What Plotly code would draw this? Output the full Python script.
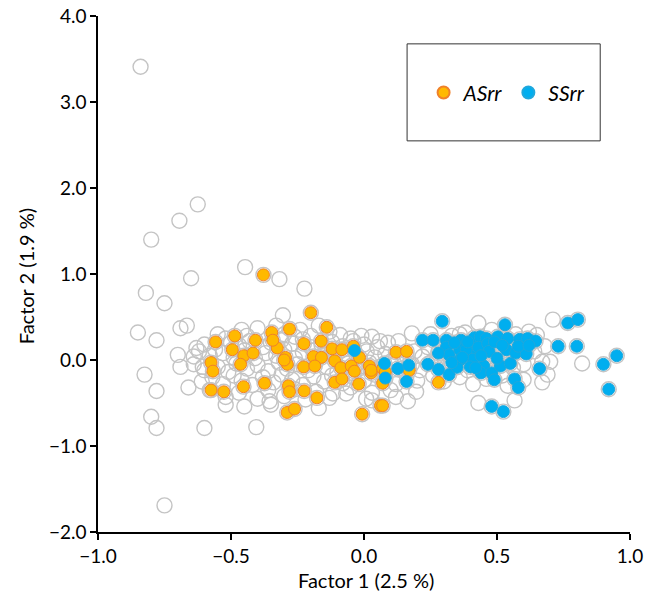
import plotly.graph_objects as go

# ---------------- data ----------------
# samples only shown as grey open circles
gray_x = [-0.84, -0.625, -0.694, -0.80, -0.65, -0.447, -0.82, -0.75, -0.318, -0.224, -0.305,
          -0.85, -0.78, -0.69, -0.666, -0.70, -0.69, -0.63, -0.64, -0.825, -0.78, -0.66,
          -0.80, -0.78, -0.60, -0.405, -0.75, -0.606,
          -0.46, -0.40, -0.33, -0.24, -0.30, -0.17, -0.09, -0.05, 0.03, -0.13, -0.20, -0.55, -0.52,
          -0.60, -0.56, -0.50, -0.47, -0.43, -0.38, -0.35, -0.31, -0.27, -0.23, -0.20, -0.16, -0.12,
          -0.08, -0.04, 0.00, 0.05, 0.09, 0.13, -0.44, -0.26,
          -0.62, -0.58, -0.53, -0.49, -0.45, -0.41, -0.37, -0.33, -0.30, -0.26, -0.23, -0.19, -0.15,
          -0.11, -0.07, -0.03, 0.01, 0.04, 0.08, 0.12, 0.16, 0.19, 0.22,
          -0.64, -0.60, -0.55, -0.51, -0.48, -0.44, -0.40, -0.36, -0.32, -0.29, -0.25, -0.21, -0.18,
          -0.14, -0.10, -0.06, -0.02, 0.02, 0.06, 0.10, 0.14, 0.18, 0.21, 0.25,
          -0.61, -0.57, -0.53, -0.49, -0.46, -0.42, -0.38, -0.34, -0.31, -0.27, -0.23, -0.19, -0.15,
          -0.12, -0.08, -0.04, 0.00, 0.04, 0.08, 0.12, 0.16, 0.20,
          -0.58, -0.52, -0.52, -0.45, -0.47, -0.40, -0.36, -0.355, -0.35, -0.30, -0.26, -0.22, -0.17,
          -0.18, -0.13, -0.117, -0.067, -0.05, 0.008, 0.03, 0.03, 0.10, 0.12, 0.165, 0.196,
          0.18, 0.25, 0.33, 0.38, 0.43, 0.48, 0.57, 0.65, 0.62,
          0.24, 0.28, 0.34, 0.38, 0.42, 0.46, 0.50, 0.55, 0.60, 0.64, 0.68,
          0.27, 0.31, 0.35, 0.39, 0.43, 0.47, 0.52, 0.56, 0.60, 0.67, 0.70,
          0.26, 0.30, 0.36, 0.41, 0.46, 0.52, 0.60, 0.69, 0.67, 0.54,
          0.43, 0.566, 0.71, 0.82, 0.36, -0.01, 0.06]
gray_y = [3.41, 1.81, 1.62, 1.40, 0.95, 1.08, 0.78, 0.66, 0.94, 0.83, 0.52,
          0.32, 0.23, 0.37, 0.40, 0.06, -0.08, 0.14, 0.04, -0.17, -0.36, -0.32,
          -0.66, -0.79, -0.79, -0.78, -1.69, -0.08,
          0.35, 0.37, 0.40, 0.35, 0.30, 0.40, 0.29, 0.25, 0.27, 0.33, 0.28, 0.30, 0.25,
          0.18, 0.12, 0.20, 0.17, 0.22, 0.15, 0.20, 0.23, 0.19, 0.24, 0.15, 0.18, 0.21,
          0.16, 0.22, 0.18, 0.15, 0.20, 0.22, 0.28, 0.27,
          0.10, 0.05, 0.08, 0.03, 0.11, 0.02, 0.08, 0.05, 0.12, 0.02, 0.09, 0.11, 0.06,
          0.09, 0.04, 0.07, 0.10, 0.03, 0.07, 0.02, 0.05, 0.10, 0.04,
          -0.05, -0.12, -0.08, -0.14, -0.04, -0.10, -0.06, -0.13, -0.03, -0.10, -0.05, -0.12, -0.02,
          -0.08, -0.14, -0.04, -0.10, -0.03, -0.08, -0.02, -0.10, -0.05, -0.12, -0.03,
          -0.25, -0.20, -0.28, -0.18, -0.24, -0.29, -0.20, -0.26, -0.17, -0.23, -0.29, -0.19, -0.25,
          -0.18, -0.27, -0.20, -0.24, -0.17, -0.22, -0.28, -0.18, -0.24,
          -0.35, -0.43, -0.52, -0.54, -0.38, -0.45, -0.35, -0.48, -0.52, -0.42, -0.34, -0.46, -0.56,
          -0.37, -0.44, -0.39, -0.39, -0.32, -0.45, -0.38, -0.47, -0.35, -0.43, -0.48, -0.37,
          0.31, 0.30, 0.28, 0.32, 0.43, 0.35, 0.30, 0.29, 0.33,
          0.15, 0.10, 0.18, 0.05, 0.20, 0.03, 0.16, 0.22, 0.14, 0.10, 0.16,
          -0.02, -0.08, 0.02, -0.12, -0.03, -0.10, -0.02, -0.09, -0.05, -0.02, -0.02,
          -0.18, -0.25, -0.20, -0.28, -0.22, -0.18, -0.23, -0.17, -0.26, -0.30,
          -0.50, -0.47, 0.47, -0.04, 0.30, 0.28, 0.22]

# ASrr samples
as_x = [-0.378, -0.20, -0.14, -0.558, -0.486, -0.408, -0.347, -0.28, -0.495, -0.452, -0.417,
        -0.464, -0.326, -0.343, -0.226, -0.161, -0.12, -0.083, -0.04, -0.295, -0.288, -0.19,
        -0.16, -0.11, -0.087, -0.017, -0.048, -0.036, 0.02, 0.027, -0.227, -0.185, -0.575,
        -0.568, -0.575, -0.527, -0.453, -0.374, -0.284, -0.28, -0.225, -0.177, -0.11, -0.083,
        -0.02, -0.289, -0.261, -0.007, 0.062, 0.07, 0.12, 0.16, 0.027, 0.07, 0.08, 0.17, 0.07,
        0.28, -0.30]
as_y = [0.99, 0.55, 0.38, 0.21, 0.28, 0.23, 0.32, 0.36, 0.12, 0.05, 0.08,
        -0.05, 0.14, 0.23, 0.19, 0.22, 0.13, 0.12, 0.16, 0.03, -0.05, 0.04,
        0.03, -0.01, -0.09, 0.03, -0.07, -0.13, -0.07, -0.15, -0.08, -0.07, -0.03,
        -0.13, -0.35, -0.37, -0.31, -0.27, -0.30, -0.37, -0.36, -0.44, -0.26, -0.22,
        -0.28, -0.61, -0.57, -0.63, -0.53, -0.53, 0.09, 0.10, -0.12, -0.10, -0.14, -0.12, -0.27,
        -0.26, 0.00]

# SSrr samples
ss_x = [0.294, 0.53, 0.766, 0.804, 0.22, 0.26, 0.31, 0.365, 0.415, 0.437, 0.46, 0.503, 0.54,
        0.585, 0.615, 0.645, 0.73, 0.80, 0.077, 0.08, 0.127, 0.168, 0.16, 0.24, 0.28, 0.32,
        0.31, 0.32, 0.36, 0.36, 0.40, 0.41, 0.43, 0.465, 0.47, 0.45, 0.44, 0.48, 0.513, 0.50,
        0.535, 0.57, 0.61, 0.40, 0.49, 0.566, 0.58, 0.66, 0.48, 0.524, 0.90, 0.95, 0.92, 0.35,
        -0.036, 0.384, 0.37, 0.34, 0.39, 0.49, 0.52, 0.44, 0.58, 0.62, 0.28, 0.33, 0.42, 0.55]
ss_y = [0.45, 0.41, 0.43, 0.47, 0.23, 0.23, 0.23, 0.23, 0.26, 0.27, 0.25, 0.27, 0.25,
        0.24, 0.25, 0.22, 0.16, 0.16, -0.04, -0.21, -0.10, -0.06, -0.25, -0.05, -0.11, -0.17,
        0.15, 0.06, 0.00, 0.12, 0.10, 0.01, 0.15, 0.19, 0.10, -0.07, -0.15, -0.15, -0.07, 0.02,
        0.12, 0.08, 0.07, -0.08, -0.23, -0.22, -0.32, -0.10, -0.54, -0.60, -0.05, 0.05, -0.34, -0.085,
        0.11, 0.12, 0.03, 0.20, 0.21, 0.21, 0.17, 0.05, 0.16, 0.17, 0.08, -0.03, -0.09, -0.04]

x_ticks = [-1.0, -0.5, 0.0, 0.5, 1.0]
y_ticks = [-2.0, -1.0, 0.0, 1.0, 2.0, 3.0, 4.0]

# ---------------- figure ----------------
FONT = "Lato"
all_x = gray_x + as_x + ss_x
all_y = gray_y + as_y + ss_y

fig = go.Figure()
fig.add_trace(go.Scatter(
    x=all_x, y=all_y, mode="markers", showlegend=False, hoverinfo="skip",
    marker=dict(symbol="circle-open", size=15, color="#C4C4C4", line=dict(width=1.4))))
fig.add_trace(go.Scatter(
    x=as_x, y=as_y, mode="markers", name="<i>ASrr</i>",
    marker=dict(symbol="circle", size=12, color="#FFB900", line=dict(width=1, color="#F0812A"))))
fig.add_trace(go.Scatter(
    x=ss_x, y=ss_y, mode="markers", name="<i>SSrr</i>",
    marker=dict(symbol="circle", size=12, color="#00AEEF", line=dict(width=1, color="#1FA8DD"))))

axis_common = dict(showgrid=False, zeroline=False, showline=True, linecolor="black", linewidth=1.5,
                   ticks="outside", ticklen=6, tickwidth=1.5, tickcolor="black",
                   tickfont=dict(family=FONT, size=19, color="black"), tickformat=".1f",
                   automargin=False, mirror=False)

fig.update_layout(
    width=648, height=597,
    margin=dict(l=98, r=18, t=16, b=65),
    paper_bgcolor="white", plot_bgcolor="white",
    xaxis=dict(range=[-1.0, 1.0], tickvals=x_ticks, **axis_common),
    yaxis=dict(range=[-2.0, 4.0], tickvals=y_ticks, **axis_common),
    legend=dict(orientation="h", x=0.612, y=0.851, xanchor="left", yanchor="middle",
                bgcolor="rgba(0,0,0,0)", borderwidth=0, itemwidth=30,
                font=dict(family=FONT, size=21, color="black"), itemsizing="constant"),
    shapes=[dict(type="rect", xref="paper", yref="paper", x0=0.581, x1=0.944, y0=0.758, y1=0.946,
                 line=dict(color="#333333", width=1), fillcolor="rgba(0,0,0,0)", layer="below")],
    annotations=[
        dict(text="Factor 1 (2.5 %)", xref="paper", yref="paper", x=0.503, y=-0.093,
             xanchor="center", yanchor="middle", showarrow=False,
             font=dict(family=FONT, size=20, color="black")),
        dict(text="Factor 2 (1.9 %)", xref="paper", yref="paper", x=-0.136, y=0.495,
             xanchor="center", yanchor="middle", showarrow=False, textangle=-90,
             font=dict(family=FONT, size=20, color="black")),
    ],
)

fig.write_html("out.html")
